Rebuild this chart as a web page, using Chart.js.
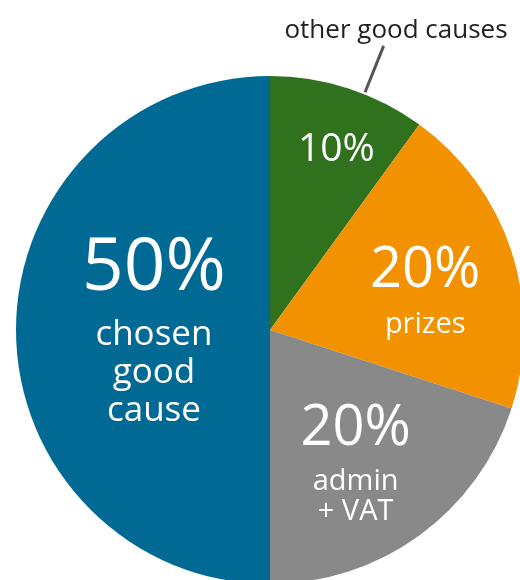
<!DOCTYPE html>
<html>
<head>
<meta charset="utf-8">
<script src="https://cdn.jsdelivr.net/npm/chart.js@4"></script>
<style>
  html, body { margin: 0; padding: 0; background: #fff; overflow: hidden; }
  #wrap { position: relative; width: 540px; height: 600px; }
</style>
</head>
<body>
<div id="wrap"><canvas id="chart"></canvas></div>
<script>
// slice order follows the picture, clockwise from the top
var categories = ["other good causes", "prizes", "admin + VAT", "chosen good cause"];
var shares = [10, 20, 20, 50];
var colours = ["#2f711d", "#f29200", "#898989", "#006a94"];
// text inside each slice, first line is the share
var sliceText = [
  ["10%"],
  ["20%", "prizes"],
  ["20%", "admin", "+ VAT"],
  ["50%", "chosen", "good", "cause"]
];
var calloutText = "other good causes";

// where the text sits in each slice: fraction of radius, nudges, font sizes, line baselines
var textLayout = [
  { f: 0.77, dx: 6, sizes: [39], dy: [17] },
  { f: 0.63, dx: 3, sizes: [56, 29], dy: [6, 52] },
  { f: 0.60, dx: -4, sizes: [56, 29, 29], dy: [-8, 37, 67] },
  { f: 0.457, dx: 0, sizes: [73, 35, 35, 35], dy: [-40, 15, 53, 91] }
];

var FONT = "'Open Sans', 'Noto Sans', sans-serif";

const sliceLabels = {
  id: "sliceLabels",
  afterDatasetsDraw(chart) {
    const ctx = chart.ctx;
    const arcs = chart.getDatasetMeta(0).data;
    ctx.save();
    ctx.textAlign = "center";
    ctx.textBaseline = "alphabetic";
    ctx.fillStyle = "#ffffff";
    arcs.forEach((arc, i) => {
      const p = arc.getProps(["x", "y", "startAngle", "endAngle", "outerRadius"], true);
      const mid = (p.startAngle + p.endAngle) / 2;
      const lay = textLayout[i];
      const ax = p.x + Math.cos(mid) * p.outerRadius * lay.f + lay.dx;
      const ay = p.y + Math.sin(mid) * p.outerRadius * lay.f;
      sliceText[i].forEach((t, j) => {
        ctx.font = lay.sizes[j] + "px " + FONT;
        ctx.fillText(t, ax, ay + lay.dy[j]);
      });
    });

    // callout for the small green slice
    const g = arcs[0].getProps(["x", "y", "outerRadius"], true);
    const a = (21.8 - 90) * Math.PI / 180;
    ctx.strokeStyle = "#555555";
    ctx.lineWidth = 3;
    ctx.beginPath();
    ctx.moveTo(g.x + Math.cos(a) * (g.outerRadius + 2), g.y + Math.sin(a) * (g.outerRadius + 2));
    ctx.lineTo(g.x + Math.cos(a) * (g.outerRadius + 52), g.y + Math.sin(a) * (g.outerRadius + 52));
    ctx.stroke();
    ctx.fillStyle = "#222222";
    ctx.font = "26px " + FONT;
    ctx.fillText(calloutText, 396, 38);
    ctx.restore();
  }
};

new Chart(document.getElementById("chart"), {
  type: "pie",
  data: {
    labels: categories,
    datasets: [{
      data: shares,
      backgroundColor: colours,
      borderWidth: 0
    }]
  },
  options: {
    responsive: true,
    maintainAspectRatio: false,
    animation: false,
    layout: { padding: { left: 16, right: 16, top: 76, bottom: 16 } },
    plugins: {
      legend: { display: false },
      tooltip: { enabled: false }
    }
  },
  plugins: [sliceLabels]
});
</script>
</body>
</html>
